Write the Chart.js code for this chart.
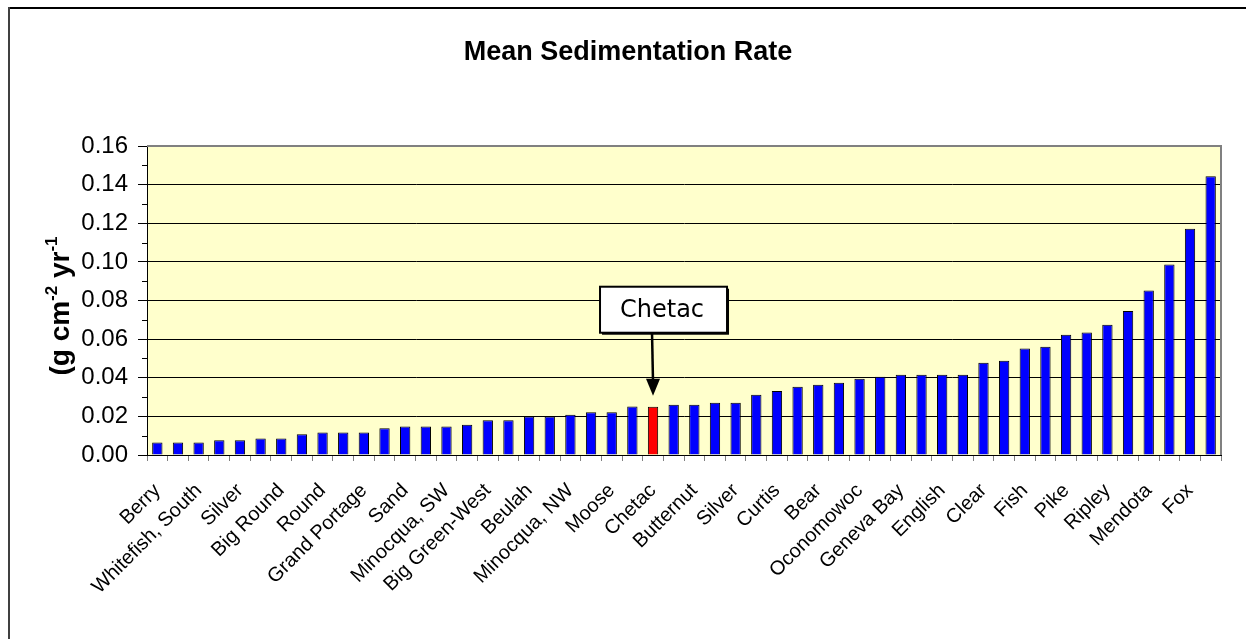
<!DOCTYPE html>
<html>
<head>
<meta charset="utf-8">
<script src="https://cdn.jsdelivr.net/npm/chart.js@4"></script>
<style>
  body { margin: 0; background: #fff; }
</style>
</head>
<body>
<canvas id="grafico" width="1246" height="639"></canvas>
<script>
// lakes, sorted by rate; only every other bar carries a name on the axis
const lakes = ['Berry', '', 'Whitefish, South', '', 'Silver', '', 'Big Round', '', 'Round', '',
  'Grand Portage', '', 'Sand', '', 'Minocqua, SW', '', 'Big Green-West', '', 'Beulah', '',
  'Minocqua, NW', '', 'Moose', '', 'Chetac', '', 'Butternut', '', 'Silver', '', 'Curtis', '',
  'Bear', '', 'Oconomowoc', '', 'Geneva Bay', '', 'English', '', 'Clear', '', 'Fish', '',
  'Pike', '', 'Ripley', '', 'Mendota', '', 'Fox', ''];
const rates = [0.0065, 0.0065, 0.0065, 0.0076, 0.0076, 0.0086, 0.0086, 0.0107, 0.0117, 0.0117,
  0.0117, 0.0138, 0.0147, 0.0147, 0.0147, 0.0157, 0.0180, 0.0180, 0.0200, 0.0200,
  0.0209, 0.0221, 0.0221, 0.0251, 0.0250, 0.0260, 0.0260, 0.0270, 0.0270, 0.0312,
  0.0332, 0.0353, 0.0364, 0.0374, 0.0395, 0.0405, 0.0416, 0.0416, 0.0416, 0.0416,
  0.0478, 0.0488, 0.0551, 0.0561, 0.0623, 0.0634, 0.0675, 0.0746, 0.0852, 0.0987,
  0.1172, 0.1444];
const yTicks = [0, 0.02, 0.04, 0.06, 0.08, 0.10, 0.12, 0.14, 0.16];
const titulo = 'Mean Sedimentation Rate';
const destaque = 'Chetac';

const hi = lakes.indexOf(destaque);
const cores = rates.map((v, i) => i === hi ? '#FF0000' : '#0000FF');

const extras = {
  id: 'extras',
  beforeDraw(chart) {
    const { ctx, chartArea: a } = chart;
    ctx.save();
    ctx.fillStyle = '#fff';
    ctx.fillRect(0, 0, chart.width, chart.height);
    ctx.fillStyle = '#FFFFCC';
    ctx.fillRect(a.left, a.top, a.right - a.left, a.bottom - a.top);
    // moldura externa (so topo e esquerda aparecem)
    ctx.fillStyle = '#000';
    ctx.fillRect(8, 7, chart.width - 8, 2);
    ctx.fillStyle = '#404040';
    ctx.fillRect(8, 7, 2, chart.height - 7);
    ctx.restore();
  },
  afterDraw(chart) {
    const { ctx, chartArea: a, scales } = chart;
    ctx.save();
    // borda cinza da area do grafico
    ctx.strokeStyle = '#808080';
    ctx.lineWidth = 2;
    ctx.beginPath();
    ctx.moveTo(a.left, a.top);
    ctx.lineTo(a.right, a.top);
    ctx.lineTo(a.right, a.bottom);
    ctx.stroke();

    // ticks menores do eixo y
    ctx.strokeStyle = '#000';
    ctx.lineWidth = 1;
    for (let i = 0; i < yTicks.length - 1; i++) {
      const py = Math.round(scales.y.getPixelForValue((yTicks[i] + yTicks[i + 1]) / 2)) + 0.5;
      ctx.beginPath();
      ctx.moveTo(a.left - 5, py);
      ctx.lineTo(a.left, py);
      ctx.stroke();
    }

    // titulo
    ctx.fillStyle = '#000';
    ctx.font = 'bold 27px "Liberation Sans", Arial, sans-serif';
    ctx.textAlign = 'center';
    ctx.textBaseline = 'middle';
    ctx.fillText(titulo, 628, 53);

    // titulo do eixo y com expoentes
    const partes = [['(g cm', false], ['-2', true], [' yr', false], ['-1', true]];
    const fMain = 'bold 28px "Liberation Sans", Arial, sans-serif';
    const fSup = 'bold 17px "Liberation Sans", Arial, sans-serif';
    let total = 0;
    partes.forEach(p => { ctx.font = p[1] ? fSup : fMain; total += ctx.measureText(p[0]).width; });
    ctx.translate(60, 306);
    ctx.rotate(-Math.PI / 2);
    ctx.textAlign = 'left';
    ctx.textBaseline = 'alphabetic';
    let px = -total / 2;
    partes.forEach(p => {
      ctx.font = p[1] ? fSup : fMain;
      ctx.fillText(p[0], px, p[1] ? -3 : 9);
      px += ctx.measureText(p[0]).width;
    });
    ctx.setTransform(1, 0, 0, 1, 0, 0);

    // caixa e seta do destaque
    const bx = scales.x.getPixelForValue(hi);
    const by = scales.y.getPixelForValue(rates[hi]);
    const left = bx - 53, right = bx + 74, top = by - 120, bottom = by - 74;
    ctx.fillStyle = '#000';
    ctx.fillRect(left + 2, top + 2, right - left, bottom - top);
    ctx.fillStyle = '#fff';
    ctx.fillRect(left, top, right - left, bottom - top);
    ctx.strokeStyle = '#000';
    ctx.lineWidth = 2;
    ctx.strokeRect(left, top, right - left, bottom - top);
    ctx.fillStyle = '#000';
    ctx.font = '24px "DejaVu Sans", Verdana, sans-serif';
    ctx.textAlign = 'center';
    ctx.textBaseline = 'middle';
    ctx.fillText(destaque, bx + 9, top + 24);

    const tip = by - 11;
    ctx.lineWidth = 2.5;
    ctx.beginPath();
    ctx.moveTo(bx - 1, bottom);
    ctx.lineTo(bx, tip - 14);
    ctx.stroke();
    ctx.beginPath();
    ctx.moveTo(bx - 7, tip - 17);
    ctx.lineTo(bx + 7, tip - 17);
    ctx.lineTo(bx, tip);
    ctx.closePath();
    ctx.fill();
    ctx.restore();
  }
};

new Chart(document.getElementById('grafico'), {
  type: 'bar',
  data: {
    labels: lakes,
    datasets: [{
      label: titulo,
      data: rates,
      backgroundColor: cores,
      borderColor: '#000',
      borderWidth: 1,
      borderSkipped: 'bottom',
      categoryPercentage: 1,
      barPercentage: 0.5
    }]
  },
  options: {
    responsive: false,
    animation: false,
    layout: { padding: { top: 146, right: 25, left: 0, bottom: 0 } },
    plugins: {
      legend: { display: false },
      title: { display: false },
      tooltip: { enabled: false }
    },
    scales: {
      x: {
        offset: true,
        grid: { offset: true, drawOnChartArea: false, tickLength: 6, color: '#808080' },
        border: { color: '#000', width: 1 },
        ticks: {
          autoSkip: false, maxRotation: 45, minRotation: 45, padding: 18, color: '#000',
          font: { family: '"Liberation Sans", Arial, sans-serif', size: 20 }
        },
        afterFit(s) { s.height = 184; }
      },
      y: {
        min: 0, max: 0.16,
        afterBuildTicks(s) { s.ticks = yTicks.map(v => ({ value: v })); },
        ticks: {
          padding: 10, color: '#000',
          font: { family: '"Liberation Sans", Arial, sans-serif', size: 24 },
          callback: v => v.toFixed(2)
        },
        grid: { color: '#000', tickLength: 9 },
        border: { color: '#000' },
        afterFit(s) { s.width = 147; }
      }
    }
  },
  plugins: [extras]
});
</script>
</body>
</html>
